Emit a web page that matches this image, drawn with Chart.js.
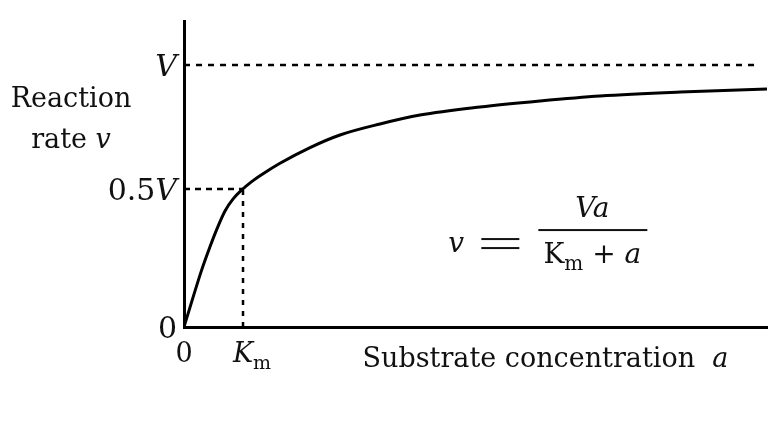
<!DOCTYPE html>
<html>
<head>
<meta charset="utf-8">
<script src="https://cdn.jsdelivr.net/npm/chart.js@4.4.1/dist/chart.umd.min.js"></script>
<style>
  html, body { margin: 0; padding: 0; background: #fff; }
  #chart { display: block; }
</style>
</head>
<body>
<canvas id="chart" width="777" height="437"></canvas>
<script>
"use strict";

// ── DATA (x in units of Km, y in units of V) ──
const substrate = [0, 0.30, 0.44, 0.55, 0.695, 0.836, 0.978, 1.147, 1.34, 1.627, 2.136, 2.644, 3.322, 4.0, 5.017, 6.034, 7.05, 8.41, 9.88];
const rate      = [0, 0.218, 0.306, 0.37, 0.443, 0.49, 0.523, 0.555, 0.585, 0.625, 0.685, 0.733, 0.775, 0.809, 0.840, 0.863, 0.882, 0.897, 0.908];

const vmaxLevel = 1;      // V
const halfLevel = 0.527;  // 0.5V as drawn
const kmValue   = 1;      // Km
const vLineEnd  = 9.76;   // where the dashed V line stops

const yTicks      = [0, halfLevel, vmaxLevel];
const yTickLabels = ["0", "0.5$V$", "$V$"];
const xTicks      = [0, kmValue];
const xTickLabels = ["0", "$K$_m"];

const yTitleLines = ["Reaction", "rate $v$"];
const xTitle      = "Substrate concentration  $a$";
const formulaLeft = "$v$";
const formulaEq   = "=";
const formulaNum  = "$Va$";
const formulaDen  = "K_m + $a$";

// ── RICH TEXT ($..$ = italic, _x = subscript) ──
const FONT = "'DejaVu Serif', 'Liberation Serif', serif";

function parseRich(str) {
  return str.split(/(\$[^$]*\$|_[a-z])/).filter(Boolean).map(p =>
    p[0] === "$" ? { t: p.slice(1, -1), it: true }
    : p[0] === "_" ? { t: p.slice(1), sub: true }
    : { t: p });
}

function drawRich(ctx, str, x, y, align, size, anchorFirst) {
  const segs = parseRich(str);
  const fontOf = s => `${s.it ? "italic " : ""}${s.sub ? Math.round(size * 0.72) : size}px ${FONT}`;
  let total = 0;
  segs.forEach(s => { ctx.font = fontOf(s); s.w = ctx.measureText(s.t).width; total += s.w; });
  let sx = align === "right" ? x - total : align === "center" ? x - total / 2 : x;
  if (anchorFirst) sx = x - segs[0].w / 2;
  ctx.textAlign = "left";
  ctx.textBaseline = "alphabetic";
  segs.forEach(s => {
    ctx.font = fontOf(s);
    ctx.fillText(s.t, sx, s.sub ? y + size * 0.25 : y);
    sx += s.w;
  });
}

// ── TEXT PLUGIN ──
const textPlugin = {
  id: "mmText",
  afterDraw(chart) {
    const ctx = chart.ctx;
    const xs = chart.scales.x, ys = chart.scales.y, ca = chart.chartArea;
    ctx.save();
    ctx.fillStyle = "#111";

    // y ticks
    yTicks.forEach((v, i) => {
      const py = ys.getPixelForValue(v);
      drawRich(ctx, yTickLabels[i], ca.left - 7, py + 11, "right", 30);
    });
    // x ticks
    xTicks.forEach((v, i) => {
      const px = xs.getPixelForValue(v);
      drawRich(ctx, xTickLabels[i], px, ca.bottom + 35, "center", 27, true);
    });

    // axis titles
    drawRich(ctx, yTitleLines[0], 71, 107, "center", 27);
    drawRich(ctx, yTitleLines[1], 71, 148, "center", 27);
    drawRich(ctx, xTitle, ca.left + (ca.right - ca.left) * 0.62, ca.bottom + 40, "center", 27);

    // formula v = Va / (Km + a)
    const fx = xs.getPixelForValue(6.92), fy = ys.getPixelForValue(0.37);
    ctx.fillRect(fx - 54, fy - 1, 109, 2);
    drawRich(ctx, formulaNum, fx, fy - 13, "center", 28);
    drawRich(ctx, formulaDen, fx, fy + 33, "center", 28);
    drawRich(ctx, formulaLeft, fx - 144, fy + 22, "left", 28);
    ctx.fillRect(fx - 111, fy + 8, 38, 2);
    ctx.fillRect(fx - 111, fy + 17, 38, 2);
    ctx.restore();
  }
};

// ── CHART ──
const black = "#000";
const line = (data, extra) => Object.assign({
  data, showLine: true, borderColor: black, borderWidth: 2.5,
  pointRadius: 0, fill: false
}, extra);

new Chart(document.getElementById("chart"), {
  type: "scatter",
  data: {
    datasets: [
      line(substrate.map((a, i) => ({ x: a, y: rate[i] })), { borderWidth: 3, cubicInterpolationMode: "monotone" }),
      line([{ x: 0, y: vmaxLevel }, { x: vLineEnd, y: vmaxLevel }], { borderDash: [6, 6] }),
      line([{ x: 0, y: halfLevel }, { x: kmValue, y: halfLevel }], { borderDash: [6, 5] }),
      line([{ x: kmValue, y: 0 }, { x: kmValue, y: halfLevel }], { borderDash: [5, 6] })
    ]
  },
  options: {
    responsive: false,
    animation: false,
    layout: { padding: { top: 21, right: 10, left: 0, bottom: 0 } },
    plugins: { legend: { display: false }, tooltip: { enabled: false } },
    scales: {
      x: {
        type: "linear", min: 0, max: 9.88,
        grid: { display: false, drawTicks: false },
        border: { display: true, color: black, width: 3 },
        ticks: { display: false },
        afterFit(s) { s.height = 110; }
      },
      y: {
        type: "linear", min: 0, max: 1.168,
        grid: { display: false, drawTicks: false },
        border: { display: true, color: black, width: 3 },
        ticks: { display: false },
        afterFit(s) { s.width = 184; }
      }
    }
  },
  plugins: [textPlugin]
});
</script>
</body>
</html>
